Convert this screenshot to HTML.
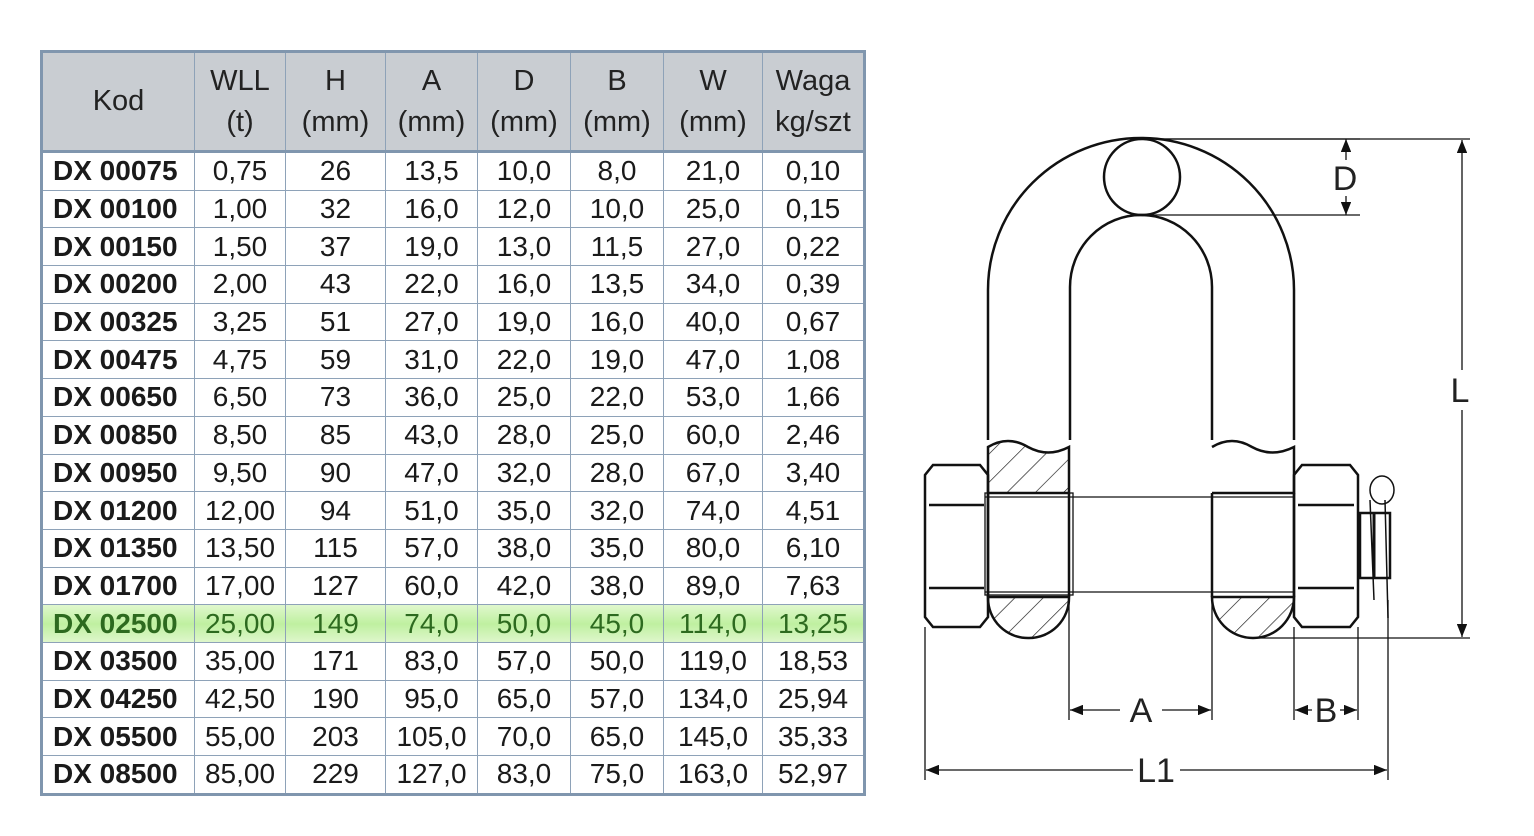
<!DOCTYPE html>
<html><head><meta charset="utf-8"><style>
body{margin:0;width:1534px;height:836px;background:#fff;overflow:hidden;position:relative;font-family:"Liberation Sans",sans-serif}
table{position:absolute;left:40px;top:50px;border-collapse:collapse;table-layout:fixed;border:3px solid #8096ae}
td{border:1.5px solid #8ea2b8;padding:0;text-align:center;font-size:28px;color:#1a1a1a;height:36.7px;line-height:36px;white-space:nowrap;overflow:hidden}
tr.h td{background:#c9cdd2;height:97px;line-height:41px;font-size:29px;color:#222;border-bottom:3px solid #8096ae}
td.k{font-weight:bold;text-align:left;padding-left:10px}
tr.g td{background:linear-gradient(#dff7cc,#bff0a0,#dff7cc);color:#2d6a1f}
</style></head><body>
<table>
<colgroup><col style="width:153px"><col style="width:91px"><col style="width:100px"><col style="width:92px"><col style="width:93px"><col style="width:93px"><col style="width:99px"><col style="width:102px"></colgroup>
<tr class="h"><td>Kod</td><td>WLL<br>(t)</td><td>H<br>(mm)</td><td>A<br>(mm)</td><td>D<br>(mm)</td><td>B<br>(mm)</td><td>W<br>(mm)</td><td>Waga<br>kg/szt</td></tr>
<tr><td class="k">DX 00075</td><td>0,75</td><td>26</td><td>13,5</td><td>10,0</td><td>8,0</td><td>21,0</td><td>0,10</td></tr>
<tr><td class="k">DX 00100</td><td>1,00</td><td>32</td><td>16,0</td><td>12,0</td><td>10,0</td><td>25,0</td><td>0,15</td></tr>
<tr><td class="k">DX 00150</td><td>1,50</td><td>37</td><td>19,0</td><td>13,0</td><td>11,5</td><td>27,0</td><td>0,22</td></tr>
<tr><td class="k">DX 00200</td><td>2,00</td><td>43</td><td>22,0</td><td>16,0</td><td>13,5</td><td>34,0</td><td>0,39</td></tr>
<tr><td class="k">DX 00325</td><td>3,25</td><td>51</td><td>27,0</td><td>19,0</td><td>16,0</td><td>40,0</td><td>0,67</td></tr>
<tr><td class="k">DX 00475</td><td>4,75</td><td>59</td><td>31,0</td><td>22,0</td><td>19,0</td><td>47,0</td><td>1,08</td></tr>
<tr><td class="k">DX 00650</td><td>6,50</td><td>73</td><td>36,0</td><td>25,0</td><td>22,0</td><td>53,0</td><td>1,66</td></tr>
<tr><td class="k">DX 00850</td><td>8,50</td><td>85</td><td>43,0</td><td>28,0</td><td>25,0</td><td>60,0</td><td>2,46</td></tr>
<tr><td class="k">DX 00950</td><td>9,50</td><td>90</td><td>47,0</td><td>32,0</td><td>28,0</td><td>67,0</td><td>3,40</td></tr>
<tr><td class="k">DX 01200</td><td>12,00</td><td>94</td><td>51,0</td><td>35,0</td><td>32,0</td><td>74,0</td><td>4,51</td></tr>
<tr><td class="k">DX 01350</td><td>13,50</td><td>115</td><td>57,0</td><td>38,0</td><td>35,0</td><td>80,0</td><td>6,10</td></tr>
<tr><td class="k">DX 01700</td><td>17,00</td><td>127</td><td>60,0</td><td>42,0</td><td>38,0</td><td>89,0</td><td>7,63</td></tr>
<tr class="g"><td class="k">DX 02500</td><td>25,00</td><td>149</td><td>74,0</td><td>50,0</td><td>45,0</td><td>114,0</td><td>13,25</td></tr>
<tr><td class="k">DX 03500</td><td>35,00</td><td>171</td><td>83,0</td><td>57,0</td><td>50,0</td><td>119,0</td><td>18,53</td></tr>
<tr><td class="k">DX 04250</td><td>42,50</td><td>190</td><td>95,0</td><td>65,0</td><td>57,0</td><td>134,0</td><td>25,94</td></tr>
<tr><td class="k">DX 05500</td><td>55,00</td><td>203</td><td>105,0</td><td>70,0</td><td>65,0</td><td>145,0</td><td>35,33</td></tr>
<tr><td class="k">DX 08500</td><td>85,00</td><td>229</td><td>127,0</td><td>83,0</td><td>75,0</td><td>163,0</td><td>52,97</td></tr>
</table>
<svg width="1534" height="836" style="position:absolute;left:0;top:0" fill="none" stroke="#111">
<defs>
<pattern id="hp" width="20" height="20" patternUnits="userSpaceOnUse" patternTransform="rotate(45)"><line x1="0" y1="0" x2="0" y2="20" stroke="#111" stroke-width="1.3"/></pattern>
<marker id="ar" markerWidth="10" markerHeight="8" refX="10" refY="4" orient="auto-start-reverse"><path d="M0,0 L10,4 L0,8 z" fill="#111" stroke="none"/></marker>
</defs>
<g stroke-width="2.5">
<path d="M988,440 L988,290 A153,152 0 0 1 1294,290 L1294,440"/>
<path d="M1070,440 L1070,287 A71,72 0 0 1 1212,287 L1212,440"/>
<circle cx="1142" cy="177" r="38"/>
<path d="M988,447 Q1008,435 1028,447 Q1048,458 1069,447 L1069,493 L988,493 Z" fill="url(#hp)"/>
<path d="M1212,447 Q1232,435 1252,447 Q1272,458 1294,447 L1294,493 L1212,493" fill="none"/>
<path d="M988,597 L1069,597 L1069,598 A40,40 0 0 1 1029,638 A40,40 0 0 1 988,598 Z" fill="url(#hp)"/>
<path d="M1212,597 L1294,597 A41,41 0 0 1 1253,638 A41,41 0 0 1 1212,597 Z" fill="url(#hp)"/>
<line x1="988" y1="493" x2="988" y2="597"/><line x1="1069" y1="493" x2="1069" y2="597"/>
<line x1="1212" y1="493" x2="1212" y2="597"/><line x1="1294" y1="493" x2="1294" y2="597"/>
<path d="M933,465 L980,465 L988,475 L988,617 L980,627 L933,627 L925,617 L925,475 Z"/>
<line x1="929" y1="505" x2="984" y2="505"/><line x1="929" y1="588" x2="984" y2="588"/>
<path d="M1302,465 L1350,465 L1358,475 L1358,617 L1350,627 L1302,627 L1294,617 L1294,475 Z"/>
<line x1="1298" y1="505" x2="1354" y2="505"/><line x1="1298" y1="588" x2="1354" y2="588"/>
<rect x="1360" y="513" width="30" height="65"/>
<line x1="1374" y1="513" x2="1374" y2="578" stroke-width="3"/>
<ellipse cx="1382" cy="490" rx="12" ry="14" stroke-width="1.5"/>
<path d="M1370,500 L1374,600 M1385,500 L1388,618" stroke-width="1.5"/>
</g>
<g stroke-width="1.3">
<line x1="985" y1="497" x2="1294" y2="497"/><line x1="985" y1="592" x2="1294" y2="592"/>
<rect x="985" y="493" width="88" height="102"/>
<line x1="1142" y1="139" x2="1360" y2="139"/><line x1="1142" y1="215" x2="1360" y2="215"/>
<line x1="1346" y1="139" x2="1346" y2="160" marker-start="url(#ar)"/>
<line x1="1346" y1="196" x2="1346" y2="215" marker-end="url(#ar)"/>
<line x1="1142" y1="139" x2="1470" y2="139"/><line x1="1253" y1="638" x2="1470" y2="638"/>
<line x1="1462" y1="140" x2="1462" y2="370" marker-start="url(#ar)"/>
<line x1="1462" y1="410" x2="1462" y2="637" marker-end="url(#ar)"/>
<line x1="925" y1="627" x2="925" y2="780"/><line x1="1069" y1="600" x2="1069" y2="720"/>
<line x1="1212" y1="600" x2="1212" y2="720"/><line x1="1294" y1="627" x2="1294" y2="720"/>
<line x1="1358" y1="627" x2="1358" y2="720"/><line x1="1388" y1="600" x2="1388" y2="780"/>
<line x1="1070" y1="710" x2="1120" y2="710" marker-start="url(#ar)"/>
<line x1="1162" y1="710" x2="1211" y2="710" marker-end="url(#ar)"/>
<line x1="1295" y1="710" x2="1312" y2="710" marker-start="url(#ar)"/>
<line x1="1340" y1="710" x2="1357" y2="710" marker-end="url(#ar)"/>
<line x1="926" y1="770" x2="1133" y2="770" marker-start="url(#ar)"/>
<line x1="1180" y1="770" x2="1387" y2="770" marker-end="url(#ar)"/>
</g>
<g fill="#222" stroke="none" font-family="Liberation Sans, sans-serif" font-size="34" text-anchor="middle">
<text x="1345" y="190">D</text>
<text x="1460" y="402">L</text>
<text x="1141" y="722">A</text>
<text x="1326" y="722">B</text>
<text x="1156" y="782">L1</text>
</g>
</svg>
</body></html>
